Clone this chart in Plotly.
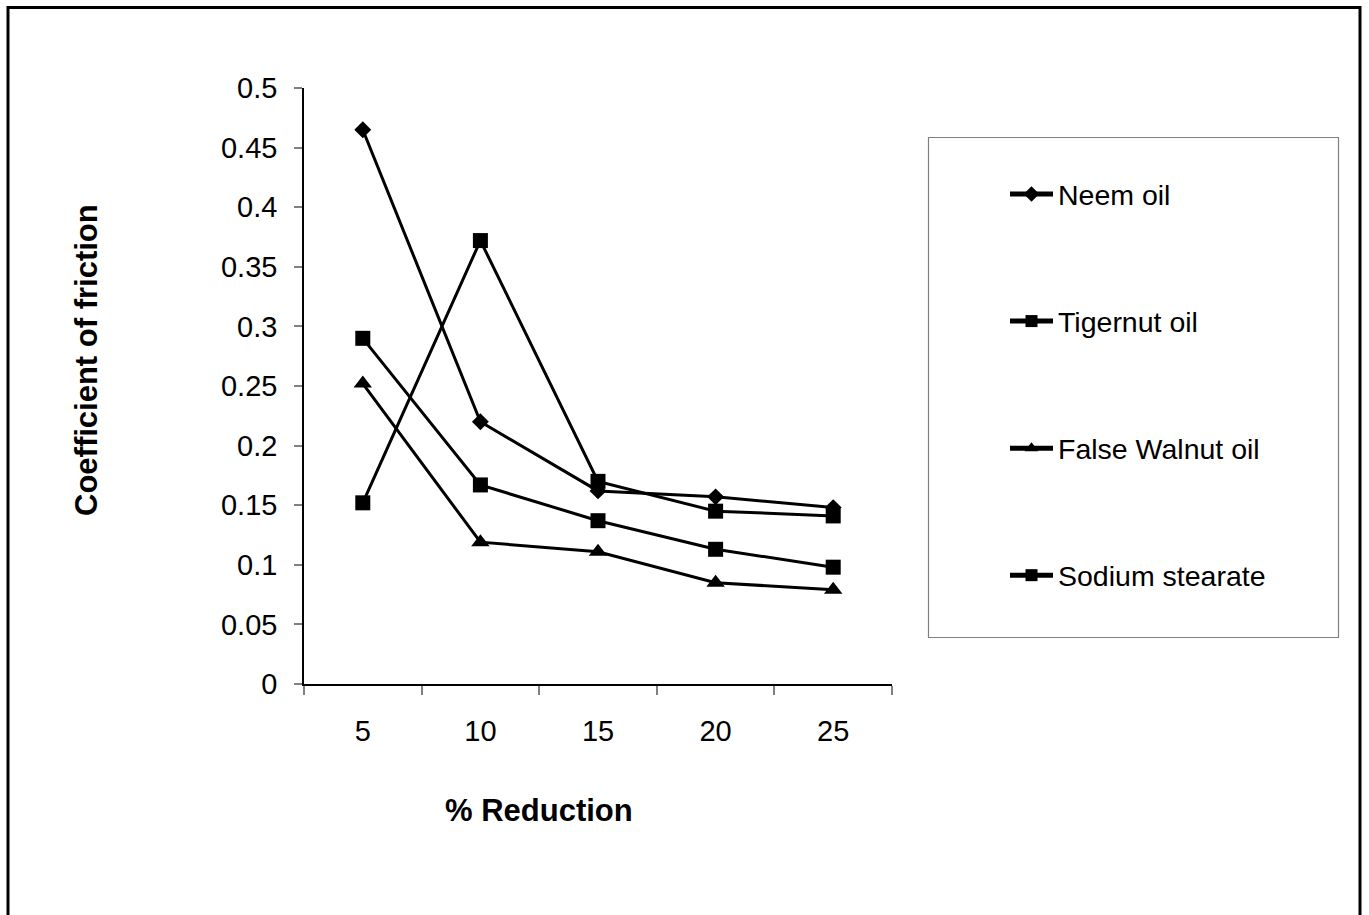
import plotly.graph_objects as go

# ---- data ----
reduction = ["5", "10", "15", "20", "25"]
neem_oil = [0.465, 0.220, 0.162, 0.157, 0.148]
tigernut_oil = [0.152, 0.372, 0.170, 0.145, 0.141]
false_walnut_oil = [0.252, 0.119, 0.111, 0.085, 0.079]
sodium_stearate = [0.290, 0.167, 0.137, 0.113, 0.098]
y_ticks = [0, 0.05, 0.1, 0.15, 0.2, 0.25, 0.3, 0.35, 0.4, 0.45, 0.5]
y_tick_text = ["0", "0.05", "0.1", "0.15", "0.2", "0.25", "0.3", "0.35", "0.4", "0.45", "0.5"]

FONT = "Liberation Sans, Arial, sans-serif"

# plot-area geometry in pixels
W, H = 1369, 915
L, R, T, B = 304, 892, 88, 684
pw, ph = R - L, B - T


def px_x(p):
    return (p - L) / pw


def px_y(p):
    return (B - p) / ph


series = [
    ("Neem oil", neem_oil, "diamond", 13),
    ("Tigernut oil", tigernut_oil, "square", 15),
    ("False Walnut oil", false_walnut_oil, "triangle-up", 16),
    ("Sodium stearate", sodium_stearate, "square", 15),
]

fig = go.Figure()
for i, (name, vals, sym, sz) in enumerate(series):
    fig.add_trace(go.Scatter(
        x=reduction, y=vals, name=name, mode="lines+markers",
        line=dict(color="black", width=3),
        marker=dict(symbol=sym, size=sz, color="black"),
        legendgroup=f"g{i}",
    ))

fig.update_layout(
    width=W, height=H,
    margin=dict(l=L, r=W - R, t=T, b=H - B, pad=0),
    paper_bgcolor="white", plot_bgcolor="white",
    font=dict(family=FONT, size=29, color="black"),
    showlegend=True,
    legend=dict(
        x=px_x(1005), y=px_y(169), xanchor="left", yanchor="top",
        bgcolor="rgba(0,0,0,0)", borderwidth=0,
        font=dict(family=FONT, size=28.5, color="black"),
        traceorder="grouped", tracegroupgap=87, itemwidth=43,
        itemsizing="constant",
    ),
    xaxis=dict(
        type="category", range=[-0.5, 4.5], showgrid=False, zeroline=False,
        showline=True, linecolor="black", linewidth=1.5,
        ticks="outside", tickson="boundaries", ticklen=9, tickcolor="#808080", tickwidth=1.5,
        ticklabelstandoff=20,
        tickfont=dict(family=FONT, size=29, color="black"),
    ),
    yaxis=dict(
        range=[0, 0.5], showgrid=False, zeroline=False,
        showline=True, linecolor="black", linewidth=1.5,
        tickvals=y_ticks, ticktext=y_tick_text,
        ticks="outside", ticklen=8, tickcolor="#808080", tickwidth=1.5,
        ticklabelstandoff=11,
        tickfont=dict(family=FONT, size=29, color="black"),
    ),
    annotations=[
        dict(text="<b>Coefficient of friction</b>", textangle=-90,
             x=px_x(86), y=px_y(360), xref="paper", yref="paper",
             xanchor="center", yanchor="middle", showarrow=False,
             font=dict(family=FONT, size=31, color="black")),
        dict(text="<b>% Reduction</b>",
             x=px_x(539), y=px_y(811), xref="paper", yref="paper",
             xanchor="center", yanchor="middle", showarrow=False,
             font=dict(family=FONT, size=31, color="black")),
    ],
    shapes=[
        # outer chart border (bottom edge lies below the visible page)
        dict(type="rect", xref="paper", yref="paper",
             x0=px_x(8), x1=px_x(1360), y0=px_y(940), y1=px_y(7.5),
             line=dict(color="black", width=3), layer="below"),
        # legend box
        dict(type="rect", xref="paper", yref="paper",
             x0=px_x(928.5), x1=px_x(1338.5), y0=px_y(637.5), y1=px_y(137.5),
             line=dict(color="#808080", width=1.2), layer="below"),
    ],
)

fig.write_html("out.html")
